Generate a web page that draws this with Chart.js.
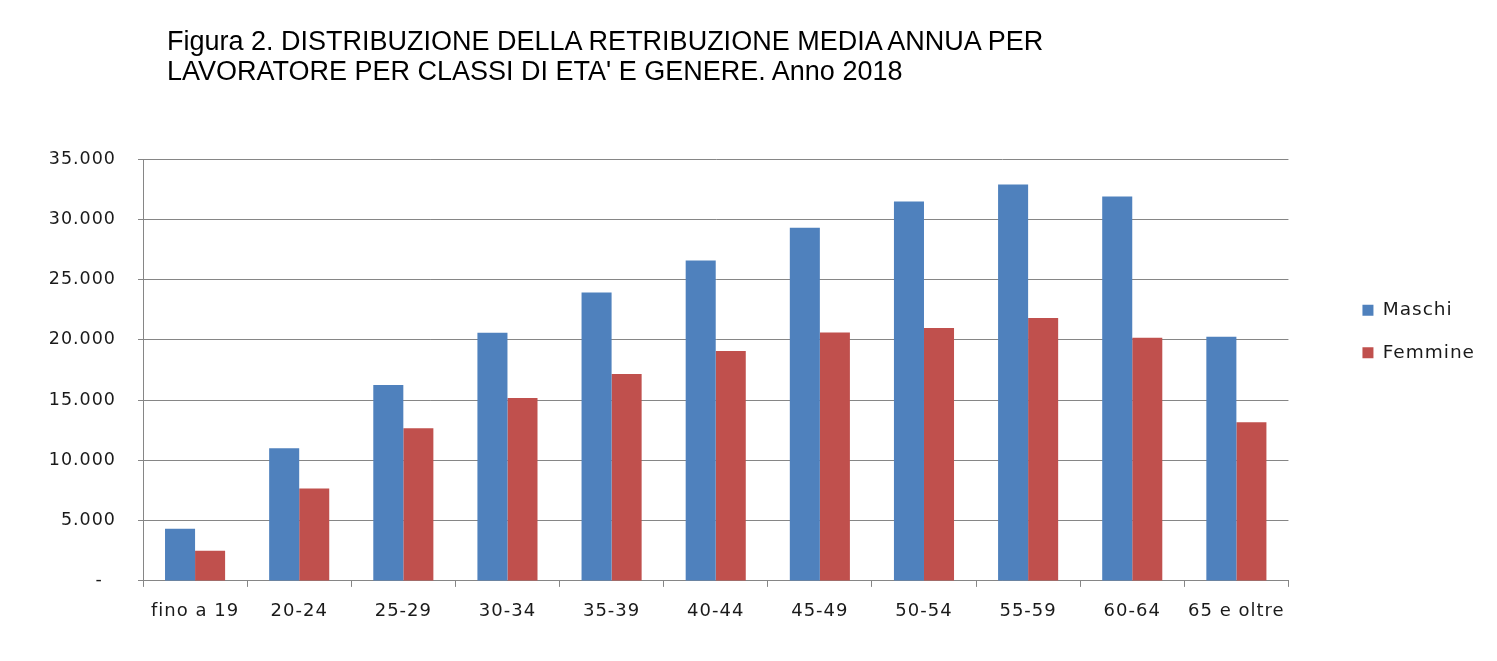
<!DOCTYPE html>
<html>
<head>
<meta charset="utf-8">
<script src="https://cdn.jsdelivr.net/npm/chart.js@4"></script>
<style>
  html, body { margin: 0; padding: 0; background: #ffffff; }
  #wrap { position: relative; width: 1497px; height: 661px; }
  #title {
    position: absolute; left: 167px; top: 26px;
    font-family: "Liberation Sans", Arial, sans-serif;
    font-size: 27px; line-height: 30px; color: #000;
    white-space: nowrap;
  }
</style>
</head>
<body>
<div id="wrap">
  <canvas id="chart" width="1497" height="661"></canvas>
  <div id="title">Figura 2. DISTRIBUZIONE DELLA RETRIBUZIONE MEDIA ANNUA PER<br>LAVORATORE PER CLASSI DI ETA' E GENERE. Anno 2018</div>
</div>
<script>
const categories = ["fino a 19", "20-24", "25-29", "30-34", "35-39", "40-44", "45-49", "50-54", "55-59", "60-64", "65 e oltre"];
const maschi   = [4330, 11000, 16250, 20580, 23920, 26580, 29300, 31480, 32880, 31880, 20250];
const femmine  = [2500, 7670, 12670, 15170, 17170, 19080, 20600, 20980, 21820, 20180, 13170];
const yTicks   = [0, 5000, 10000, 15000, 20000, 25000, 30000, 35000];

const AXIS_GRAY = "#868686";
const FONT = "'DejaVu Sans', Verdana, sans-serif";

function formatIt(v) {
  if (v === 0) return "-  ";
  return String(v).replace(/\B(?=(\d{3})+(?!\d))/g, ".");
}

// the original text is a bit wider than DejaVu, open it up slightly
const wideText = {
  id: "wideText",
  beforeUpdate(chart) { chart.ctx.letterSpacing = "1px"; },
  beforeDraw(chart) { chart.ctx.letterSpacing = "1px"; }
};

new Chart(document.getElementById("chart"), {
  type: "bar",
  data: {
    labels: categories,
    datasets: [
      { label: "Maschi", data: maschi, backgroundColor: "#4F81BD" },
      { label: "Femmine", data: femmine, backgroundColor: "#C0504D" }
    ]
  },
  plugins: [wideText],
  options: {
    responsive: false,
    animation: false,
    categoryPercentage: 0.577,
    barPercentage: 1.0,
    layout: { padding: { top: 159, left: 0, right: 12, bottom: 24.5 } },
    scales: {
      x: {
        grid: { drawOnChartArea: false, drawTicks: true, tickLength: 6, color: AXIS_GRAY, offset: true },
        border: { color: AXIS_GRAY },
        ticks: { color: "#1a1a1a", font: { family: FONT, size: 18 }, padding: 14, maxRotation: 0 }
      },
      y: {
        min: 0,
        max: 35000,
        afterBuildTicks: (scale) => { scale.ticks = yTicks.map((v) => ({ value: v })); },
        afterFit: (scale) => { scale.width = 143; },
        grid: { color: AXIS_GRAY, tickLength: 5 },
        border: { color: AXIS_GRAY },
        ticks: { color: "#1a1a1a", font: { family: FONT, size: 17.5 }, padding: 22, callback: formatIt }
      },
      gap: {
        type: "linear",
        position: "right",
        display: true,
        grid: { display: false },
        border: { display: false },
        ticks: { display: false },
        afterFit: (scale) => { scale.width = 50; }
      }
    },
    plugins: {
      legend: {
        position: "right",
        align: "start",
        fullSize: false,
        title: { display: true, text: " ", font: { size: 10 }, padding: { top: 106, bottom: 0 } },
        labels: {
          boxWidth: 11,
          boxHeight: 11,
          padding: 24,
          color: "#1a1a1a",
          font: { family: FONT, size: 18.5 }
        }
      },
      tooltip: { enabled: false }
    }
  }
});
</script>
</body>
</html>
